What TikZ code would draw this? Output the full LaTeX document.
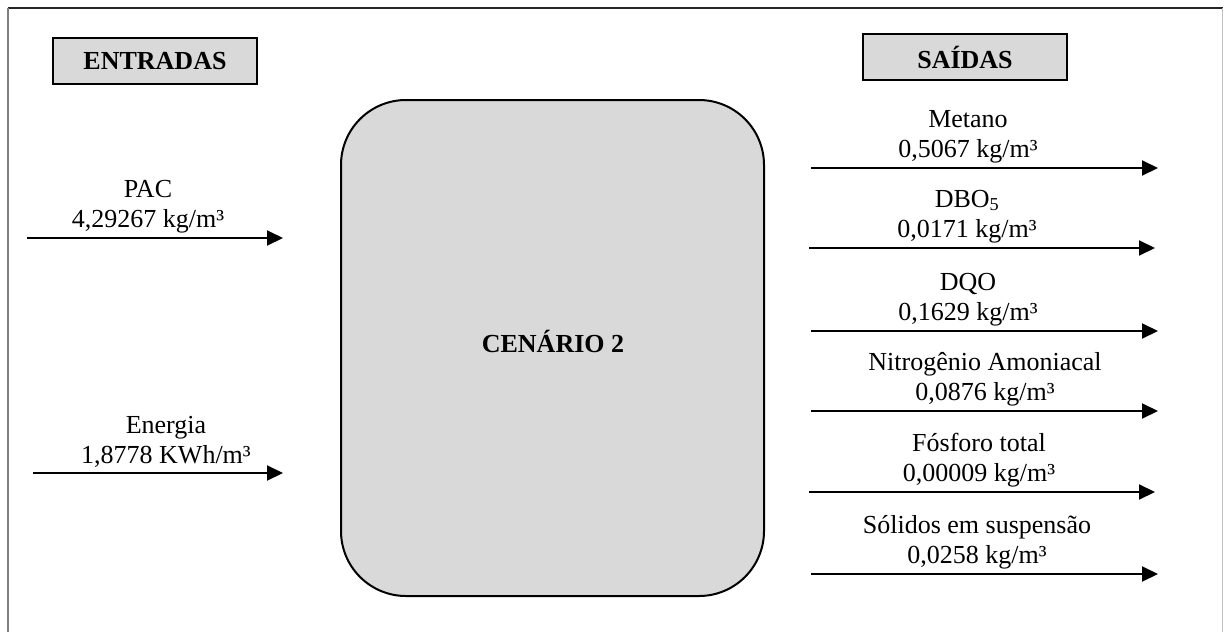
\documentclass[tikz,border=0pt]{standalone}
\usepackage{fontspec}
\setmainfont{Liberation Serif}
\usetikzlibrary{arrows.meta}
\definecolor{boxgray}{HTML}{D9D9D9}
\begin{document}
\begin{tikzpicture}[x=1pt,y=-1pt,
  lbl/.style={align=center,anchor=south,inner sep=0pt,font=\fontsize{26}{30}\selectfont},
  flow/.style={line width=2pt,-{Triangle[length=16pt,width=15pt]}},
  hdr/.style={draw,line width=1.5pt,fill=boxgray,minimum width=204pt,minimum height=46pt,inner sep=0pt,font=\fontsize{26}{30}\selectfont\bfseries},
  core/.style={draw,line width=2pt,fill=boxgray,rounded corners=65pt,minimum width=423pt,minimum height=496pt,inner sep=0pt}]
\useasboundingbox (0,0) rectangle (1224,632);
\draw[line width=1.5pt,black!85] (7.5,8) -- (1223,8);
\draw[line width=2pt,black!50] (8,8) -- (8,632);
\draw[line width=1pt,black!25] (1222.5,8) -- (1222.5,632);
\node[hdr] (ent) at (155,61) {ENTRADAS};
\node[hdr] (sai) at (965,57) {SAÍDAS};
\node[core] (cen) at (552.5,348) {};
\node[font=\fontsize{26}{30}\selectfont\bfseries,inner sep=0pt,anchor=base] (cent) at (553,352) {CENÁRIO 2};
% inputs
\coordinate (pacS) at (27,238); \coordinate (pacE) at (283,238);
\draw[flow] (pacS) -- (pacE);
\node[lbl] (pac) at (148,233) {PAC\\4,29267 kg/m³};
\coordinate (eneS) at (33,473); \coordinate (eneE) at (283,473);
\draw[flow] (eneS) -- (eneE);
\node[lbl] (ene) at (166,468) {Energia\\1,8778 KWh/m³};
% outputs
\coordinate (metS) at (811,168); \coordinate (metE) at (1158,168);
\draw[flow] (metS) -- (metE);
\node[lbl] (met) at (968,163) {Metano\\0,5067 kg/m³};
\coordinate (dboS) at (809,248); \coordinate (dboE) at (1155,248);
\draw[flow] (dboS) -- (dboE);
\node[lbl] (dbo) at (967,243) {DBO\textsubscript{5}\\0,0171 kg/m³};
\coordinate (dqoS) at (811,331); \coordinate (dqoE) at (1158,331);
\draw[flow] (dqoS) -- (dqoE);
\node[lbl] (dqo) at (968,326) {DQO\\0,1629 kg/m³};
\coordinate (nitS) at (811,411); \coordinate (nitE) at (1158,411);
\draw[flow] (nitS) -- (nitE);
\node[lbl] (nit) at (985,406) {Nitrogênio Amoniacal\\0,0876 kg/m³};
\coordinate (fosS) at (809,492); \coordinate (fosE) at (1155,492);
\draw[flow] (fosS) -- (fosE);
\node[lbl] (fos) at (979,487) {Fósforo total\\0,00009 kg/m³};
\coordinate (solS) at (811,574); \coordinate (solE) at (1158,574);
\draw[flow] (solS) -- (solE);
\node[lbl] (sol) at (977,569) {Sólidos em suspensão\\0,0258 kg/m³};
\end{tikzpicture}
\end{document}
